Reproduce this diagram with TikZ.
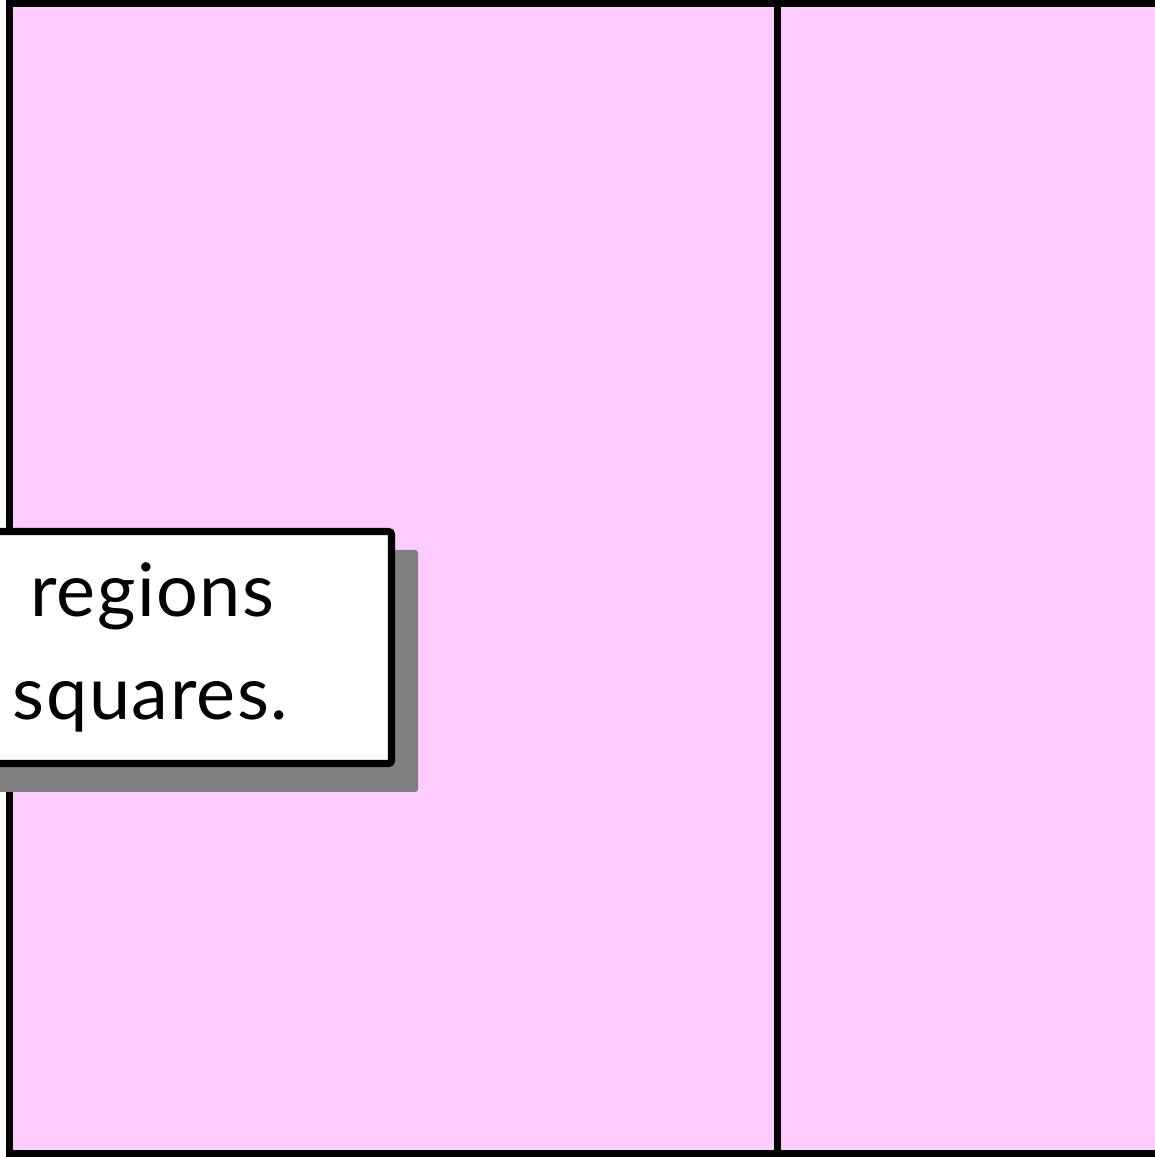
\documentclass[tikz,border=0pt]{standalone}
\usepackage{fontspec}
\setmainfont{Lato}[LetterSpace=2]
\usetikzlibrary{positioning,calc,backgrounds}
\definecolor{regpink}{RGB}{255,204,255}
\tikzset{
  regbox/.style = {draw=black, fill=regpink, line width=2pt},
  divl/.style   = {draw=black, line width=2pt},
  note/.style   = {rectangle, draw=black, fill=white, line width=2pt,
                   rounded corners=0.8pt, outer sep=0pt,
                   minimum width=4.415cm, inner xsep=0.63cm, inner ysep=0pt,
                   text width=3.155cm, text height=0.855cm, text depth=1.465cm,
                   align=left, font=\fontsize{21}{29.3}\selectfont},
  shd/.style    = {fill=gray, rounded corners=0.8pt},
}

\begin{document}
\begin{tikzpicture}
  \clip (0,0) rectangle (11.55,11.57);
  \node[note, anchor=north east] (note) at (3.915,6.255)
    {\hspace*{0.17cm}regions\\squares.};
  \begin{scope}[on background layer]
    \draw[regbox] (0.095,0.035) rectangle (12,11.535);
    \coordinate (dtop) at (7.775,11.535);
    \coordinate (dbot) at (7.775,0.035);
    \draw[divl] (dtop) -- (dbot);
    \fill[shd] ($(note.north west)+(0.265,-0.185)$) rectangle ($(note.south east)+(0.265,-0.285)$);
  \end{scope}
\end{tikzpicture}
\end{document}
